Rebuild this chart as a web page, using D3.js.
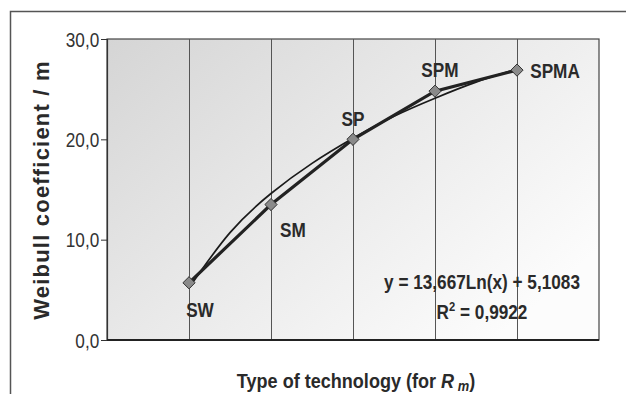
<!DOCTYPE html>
<html lang="en">

<head>
    <meta charset="UTF-8">
    <title>weibull</title>
    <style>
        body { margin: 0; background: #fff; }
        text { font-family: "Liberation Sans", Arial, sans-serif; }
    </style>
</head>

<body>

    <div id="my_dataviz"></div>

    <script src="https://d3js.org/d3.v7.min.js"></script>

    <script type="text/javascript">

        // data
        var categories = ["SW", "SM", "SP", "SPM", "SPMA"];
        var weibull = [5.7, 13.5, 20.0, 24.8, 26.9];
        // trendline as drawn (position on category axis, value)
        var trendX = [1, 1.5, 2, 2.5, 3, 3.5, 4, 4.5, 5];
        var trendY = [5.2, 10.7, 14.6, 17.6, 20.1, 22.3, 24.1, 25.7, 27.0];
        var yTicks = [0, 10, 20, 30];
        var equationText = "y = 13,667Ln(x) + 5,1083";
        var r2Value = "0,9922";

        var W = 626, H = 394;
        var margin = { top: 39, right: 27, bottom: 54, left: 107 },
            width = W - margin.left - margin.right,
            height = H - margin.top - margin.bottom;
        var SQ = 0.86; // horizontal squeeze to imitate a narrow font

        var svg0 = d3.select("#my_dataviz")
            .append("svg")
            .attr("width", W)
            .attr("height", H);

        // outer frame
        svg0.append("path")
            .attr("d", "M10.5," + H + "V11.5H" + W)
            .attr("fill", "none")
            .attr("stroke", "#555")
            .attr("stroke-width", 1.5);

        var defs = svg0.append("defs");
        var grad = defs.append("linearGradient")
            .attr("id", "bg")
            .attr("x1", 0).attr("y1", 0)
            .attr("x2", 1).attr("y2", 0.7);
        grad.append("stop").attr("offset", "0%").attr("stop-color", "#d5d5d5");
        grad.append("stop").attr("offset", "50%").attr("stop-color", "#e9e9e9");
        grad.append("stop").attr("offset", "100%").attr("stop-color", "#fcfcfc");

        var svg = svg0.append("g")
            .attr("transform", "translate(" + margin.left + "," + margin.top + ")");

        // narrow bold label helper
        function narrow(parent, px, py, size, weight) {
            return parent.append("g")
                .attr("transform", "translate(" + px + "," + py + ") scale(" + SQ + ",1)")
                .append("text")
                .attr("text-anchor", "middle")
                .style("font-size", size + "px")
                .style("font-weight", weight || "bold")
                .attr("fill", "#2a2a2a");
        }

        var x = d3.scaleLinear()
            .domain([0, categories.length + 1])
            .range([0, width]);

        var y = d3.scaleLinear()
            .domain([0, 30])
            .range([height, 0]);

        // plot background
        svg.append("rect")
            .attr("width", width)
            .attr("height", height)
            .attr("fill", "url(#bg)")
            .attr("stroke", "#444")
            .attr("stroke-width", 1.2);

        // vertical grid lines at the categories
        svg.selectAll(".vgrid")
            .data(categories)
            .enter()
            .append("line")
            .attr("class", "vgrid")
            .attr("x1", function (d, i) { return Math.round(x(i + 1)) + 0.5; })
            .attr("x2", function (d, i) { return Math.round(x(i + 1)) + 0.5; })
            .attr("y1", 0)
            .attr("y2", height)
            .attr("stroke", "#555")
            .attr("stroke-width", 1);

        // y axis
        var yAxis = svg.append("g")
            .call(d3.axisLeft(y)
                .tickValues(yTicks)
                .tickSize(6)
                .tickPadding(2)
                .tickFormat(function (d) { return d3.format(".1f")(d).replace(".", ","); }));
        yAxis.select(".domain").attr("stroke", "#333").attr("stroke-width", 1.2);
        yAxis.selectAll(".tick line").attr("stroke", "#333");
        yAxis.selectAll(".tick text")
            .style("font-size", "20px")
            .attr("fill", "#333")
            .attr("x", -9)
            .attr("dy", "0.36em")
            .attr("transform", "scale(" + SQ + ",1)");

        // x axis line
        svg.append("line")
            .attr("x1", 0).attr("x2", width)
            .attr("y1", height).attr("y2", height)
            .attr("stroke", "#222")
            .attr("stroke-width", 2);

        // trendline
        svg.append("path")
            .datum(trendX.map(function (d, i) { return [d, trendY[i]]; }))
            .attr("fill", "none")
            .attr("stroke", "#1a1a1a")
            .attr("stroke-width", 1.7)
            .attr("d", d3.line()
                .curve(d3.curveNatural)
                .x(function (d) { return x(d[0]); })
                .y(function (d) { return y(d[1]); }));

        // data line
        svg.append("path")
            .datum(weibull)
            .attr("fill", "none")
            .attr("stroke", "#222")
            .attr("stroke-width", 3.2)
            .attr("d", d3.line()
                .x(function (d, i) { return x(i + 1); })
                .y(function (d) { return y(d); }));

        // markers
        svg.selectAll(".pt")
            .data(weibull)
            .enter()
            .append("path")
            .attr("class", "pt")
            .attr("transform", function (d, i) { return "translate(" + x(i + 1) + "," + y(d) + ")"; })
            .attr("d", d3.symbol().type(d3.symbolDiamond2).size(95))
            .attr("fill", "#8a8a8a")
            .attr("stroke", "#333")
            .attr("stroke-width", 1);

        // point labels
        var labelPos = [
            { dx: 11, dy: 34 },
            { dx: 22, dy: 32 },
            { dx: 0, dy: -13 },
            { dx: 5, dy: -14 },
            { dx: 38, dy: 8 }
        ];
        categories.forEach(function (c, i) {
            narrow(svg, x(i + 1) + labelPos[i].dx, y(weibull[i]) + labelPos[i].dy, 20).text(c);
        });

        // trend equation
        narrow(svg, 375, 250, 20).text(equationText);
        var r2 = narrow(svg, 375, 280, 20);
        r2.append("tspan").text("R");
        r2.append("tspan").attr("dy", -8).style("font-size", "13px").text("2");
        r2.append("tspan").attr("dy", 8).text(" = " + r2Value);

        // axis titles
        svg0.append("text")
            .attr("transform", "translate(49,190) rotate(-90)")
            .attr("text-anchor", "middle")
            .style("font-size", "22px")
            .style("font-weight", "bold")
            .style("letter-spacing", "1.2px")
            .attr("fill", "#2a2a2a")
            .text("Weibull coefficient / m");

        var xt = narrow(svg0, 356, 388, 21);
        xt.append("tspan").text("Type of technology (for ");
        xt.append("tspan").style("font-style", "italic").text("R");
        xt.append("tspan").style("font-style", "italic").style("font-size", "15px").attr("dy", 3).text(" m");
        xt.append("tspan").attr("dy", -3).text(")");

    </script>

</body>

</html>
